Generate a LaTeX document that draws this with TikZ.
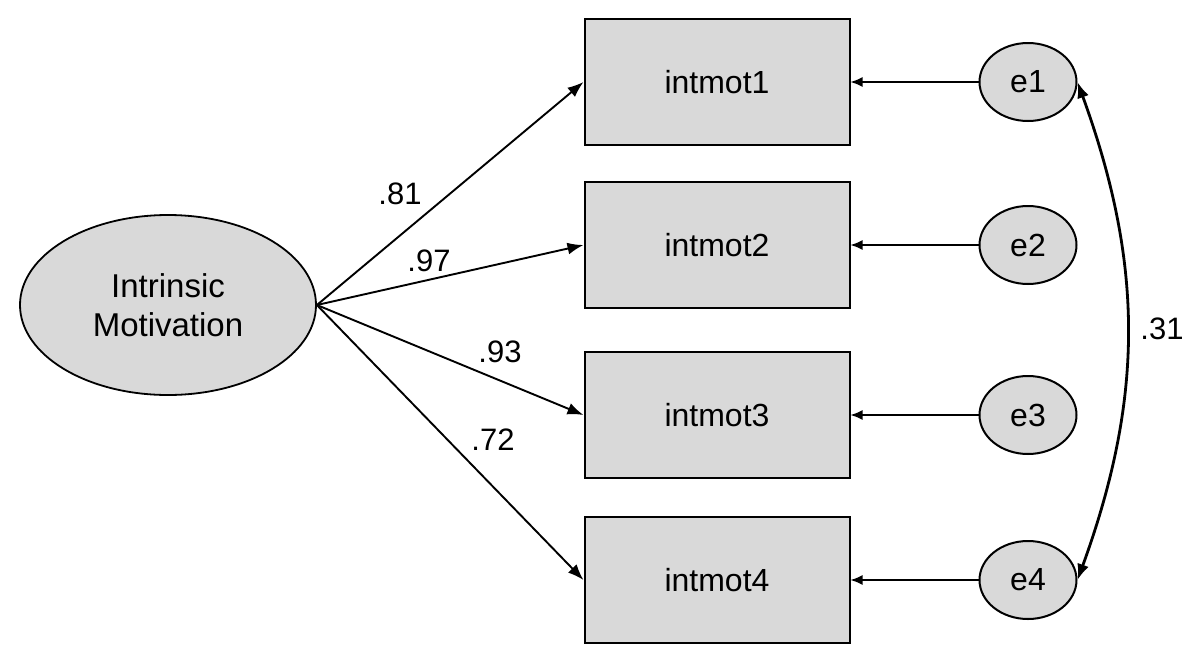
\documentclass[tikz,border=0pt]{standalone}
\usepackage{fontspec}
\setmainfont{Liberation Sans}
\usetikzlibrary{arrows.meta,shapes.geometric}
\definecolor{fillgray}{HTML}{D9D9D9}

\begin{document}
\begin{tikzpicture}[x=1pt,y=-1pt,
        latent/.style={draw,ellipse,fill=fillgray,line width=1.8pt,inner sep=0pt,
            minimum width=296pt,minimum height=180pt,align=center,
            font=\fontsize{33}{39}\selectfont},
        item/.style={draw,rectangle,fill=fillgray,line width=2pt,
            minimum width=265pt,minimum height=126pt,
            font=\fontsize{32}{38}\selectfont},
        err/.style={draw,ellipse,fill=fillgray,line width=2pt,inner sep=0pt,
            minimum width=97pt,minimum height=78pt,
            font=\fontsize{32}{38}\selectfont},
        coef/.style={inner sep=0pt,font=\fontsize{31}{36}\selectfont}]
        \useasboundingbox (0,0) rectangle (1200,665);

        \node[latent] (im) at (168,305) {Intrinsic\\Motivation};

        \node[item] (x1) at (717,82) {intmot1};
        \node[item] (x2) at (717,245) {intmot2};
        \node[item] (x3) at (717,415) {intmot3};
        \node[item] (x4) at (717,580) {intmot4};

        \node[err] (e1) at (1028,82) {e1};
        \node[err] (e2) at (1028,245) {e2};
        \node[err] (e3) at (1028,415) {e3};
        \node[err] (e4) at (1028,580) {e4};

        \foreach \i in {1,...,4} {
            \draw[-{Latex[length=16pt,width=12pt]}, line width=1.9pt] (im.east) -- (x\i.west);
            \draw[-{Latex[length=12pt,width=10pt]}, line width=1.6pt] (e\i.west) -- (x\i.east);
        }

        \draw[{Latex[length=16pt,width=12pt]}-{Latex[length=16pt,width=12pt]}, line width=2.8pt]
            (e1.east) to[bend left=20] (e4.east);

        \node[coef] (c1) at (400,194) {.81};
        \node[coef] (c2) at (429,261) {.97};
        \node[coef] (c3) at (500,352) {.93};
        \node[coef] (c4) at (493,440) {.72};
        \node[coef] (c5) at (1162,329) {.31};
    \end{tikzpicture}
\end{document}
